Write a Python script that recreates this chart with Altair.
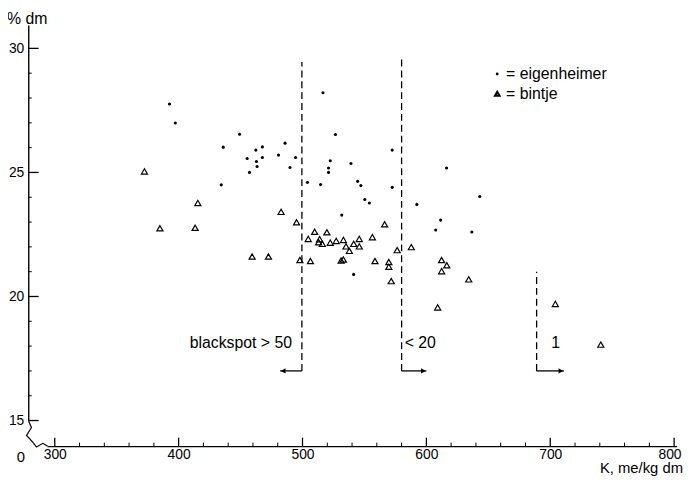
import altair as alt
import pandas as pd

# ---- data ----
eig_k = [392.6, 397.3, 449.2, 436.0, 462.3, 467.6, 485.9, 455.3, 462.8, 467.6, 480.6, 494.4,
         463.3, 457.2, 489.9, 434.4, 504.0, 514.6, 516.5, 526.6, 572.4, 522.4, 539.1, 521.0,
         521.0, 544.5, 547.1, 572.4, 550.3, 554.0, 531.7, 541.3, 592.3, 611.5, 607.5, 636.7,
         643.1, 616.3]
eig_dm = [27.76, 26.99, 26.54, 26.02, 25.90, 26.03, 26.18, 25.56, 25.44, 25.60, 25.70, 25.60,
          25.24, 25.00, 25.20, 24.50, 24.60, 24.51, 28.21, 26.53, 25.90, 25.47, 25.36, 25.18,
          25.00, 24.64, 24.47, 24.40, 23.91, 23.77, 23.28, 20.89, 23.71, 23.08, 22.68, 22.60,
          24.03, 25.18]

bin_k = [372.4, 415.5, 384.9, 413.3, 482.7, 495.2, 459.3, 472.5, 497.9, 506.4, 509.8, 519.7,
         504.6, 513.8, 513.0, 516.0, 522.4, 527.2, 533.0, 535.1, 537.8, 541.3, 545.8, 545.8,
         556.4, 566.3, 531.2, 533.0, 558.5, 576.4, 587.8, 569.7, 569.7, 571.6, 612.3, 616.5,
         612.3, 634.2, 609.1, 704.1, 740.8]
bin_dm = [25.04, 23.77, 22.75, 22.77, 23.41, 22.99, 21.61, 21.61, 21.47, 21.43, 22.61, 22.59,
          22.32, 22.31, 22.19, 22.12, 22.17, 22.24, 22.28, 22.02, 21.84, 22.12, 22.32, 22.02,
          22.39, 22.91, 21.45, 21.49, 21.43, 21.87, 21.99, 21.39, 21.20, 20.62, 21.47, 21.26,
          21.02, 20.69, 19.56, 19.70, 18.06]

# blackspot thresholds
thr_k = [499.5, 580.0, 689.0]
thr_top = [29.45, 29.55, 21.0]
thr_bottom = [17.0, 17.0, 17.0]
arrow_end = [482.0, 600.0, 711.0]
arrow_dir = ["left", "right", "right"]
thr_text = ["blackspot  > 50", "< 20", "1"]
thr_text_k = [491.5, 582.5, 704.3]
thr_text_align = ["right", "left", "center"]
thr_text_dm = [18.14, 18.14, 18.14]

x_major = [300, 400, 500, 600, 700, 800]
x_minor = [v for v in range(300, 801, 20) if v % 100 != 0]
y_major = [15, 20, 25, 30]
y_minor = [v for v in range(15, 31) if v % 5 != 0]

legend_names = ["eigenheimer", "bintje"]

# axis break decoration (zig-zag between y and x axis), in data units
break_k = [279.0, 281.2, 277.2, 282.4, 285.2, 290.4, 294.2]
break_dm = [14.96, 14.72, 14.40, 14.12, 13.93, 14.08, 13.96]

X_DOM = [279.0, 802.4]
Y_DOM = [13.95, 30.92]
W, H = 656, 426
FONT = "Liberation Sans"

xs = alt.Scale(domain=X_DOM, nice=False, zero=False)
ys = alt.Scale(domain=Y_DOM, nice=False, zero=False)

eig = pd.DataFrame({"k": eig_k, "dm": eig_dm})
bint = pd.DataFrame({"k": bin_k, "dm": bin_dm})
thr = pd.DataFrame({"k": thr_k, "top": thr_top, "bottom": thr_bottom,
                    "end": arrow_end, "dir": arrow_dir})
ann = pd.DataFrame({"k": thr_text_k, "dm": thr_text_dm, "t": thr_text, "al": thr_text_align})

base_axes = alt.Chart(pd.DataFrame({"k": [300], "dm": [15]})).mark_point(opacity=0).encode(
    x=alt.X("k:Q", scale=xs, title=None,
            axis=alt.Axis(values=x_major, ticks=False, domain=False, grid=False,
                          labelPadding=1, labelFont=FONT, labelFontSize=14,
                          labelFlush=5, labelFlushOffset=7,
                          labelColor="black")),
    y=alt.Y("dm:Q", scale=ys, title=None,
            axis=alt.Axis(values=y_major, ticks=False, domain=False, grid=False,
                          labelPadding=5, labelFont=FONT, labelFontSize=14,
                          labelFlush=False,
                          labelColor="black")),
)

# axis lines
yaxis_line = alt.Chart(pd.DataFrame({"dm": [14.96]})).mark_rule(color="black", strokeWidth=1.4).encode(
    x=alt.value(0), y=alt.Y("dm:Q", scale=ys), y2=alt.value(0))
xaxis_line = alt.Chart(pd.DataFrame({"k": [294.2]})).mark_rule(color="black", strokeWidth=1.4).encode(
    x=alt.X("k:Q", scale=xs), x2=alt.value(W), y=alt.value(H))
axis_break = alt.Chart(pd.DataFrame({"k": break_k, "dm": break_dm, "o": list(range(len(break_k)))})).mark_line(
    color="black", strokeWidth=1.2, clip=False).encode(
    x=alt.X("k:Q", scale=xs), y=alt.Y("dm:Q", scale=ys), order="o:O")

# inward ticks
ytick_major = alt.Chart(pd.DataFrame({"dm": y_major})).mark_rule(color="black", strokeWidth=1.3).encode(
    y=alt.Y("dm:Q", scale=ys), x=alt.value(0), x2=alt.value(10))
ytick_minor = alt.Chart(pd.DataFrame({"dm": y_minor})).mark_rule(color="black", strokeWidth=1).encode(
    y=alt.Y("dm:Q", scale=ys), x=alt.value(0), x2=alt.value(3))
xtick_major = alt.Chart(pd.DataFrame({"k": x_major})).mark_rule(color="black", strokeWidth=1.3).encode(
    x=alt.X("k:Q", scale=xs), y=alt.value(H), y2=alt.value(H - 9))
xtick_minor = alt.Chart(pd.DataFrame({"k": x_minor})).mark_rule(color="black", strokeWidth=1).encode(
    x=alt.X("k:Q", scale=xs), y=alt.value(H), y2=alt.value(H - 4))

# data points
dots = alt.Chart(eig).mark_point(shape="circle", filled=True, color="black", size=10, opacity=1).encode(
    x=alt.X("k:Q", scale=xs), y=alt.Y("dm:Q", scale=ys))
tris = alt.Chart(bint).mark_point(shape="triangle-up", filled=False, color="black", size=38,
                                  strokeWidth=1.2, opacity=1).encode(
    x=alt.X("k:Q", scale=xs), y=alt.Y("dm:Q", scale=ys))

# threshold dashed lines and arrows
dashed = alt.Chart(thr).mark_rule(color="black", strokeWidth=1.3, strokeDash=[7, 4]).encode(
    x=alt.X("k:Q", scale=xs), y=alt.Y("bottom:Q", scale=ys), y2="top:Q")
arrows = alt.Chart(thr).mark_rule(color="black", strokeWidth=1.3).encode(
    x=alt.X("k:Q", scale=xs), x2="end:Q", y=alt.Y("bottom:Q", scale=ys))
head_l = alt.Chart(thr[thr["dir"] == "left"]).mark_point(
    shape="triangle-left", filled=True, color="black", size=30, xOffset=3, opacity=1).encode(
    x=alt.X("end:Q", scale=xs), y=alt.Y("bottom:Q", scale=ys))
head_r = alt.Chart(thr[thr["dir"] == "right"]).mark_point(
    shape="triangle-right", filled=True, color="black", size=30, xOffset=-3, opacity=1).encode(
    x=alt.X("end:Q", scale=xs), y=alt.Y("bottom:Q", scale=ys))

ann_layers = []
for al in ["left", "right", "center"]:
    ann_layers.append(
        alt.Chart(ann[ann["al"] == al]).mark_text(align=al, baseline="middle", font=FONT,
                                                  fontSize=16, color="black").encode(
            x=alt.X("k:Q", scale=xs), y=alt.Y("dm:Q", scale=ys), text="t:N"))

# legend (manual, as in the original)
leg = pd.DataFrame({"name": legend_names, "t": ["=  " + n for n in legend_names], "row": [0, 1]})
leg_dot = alt.Chart(leg[leg["row"] == 0]).mark_point(shape="circle", filled=True, color="black",
                                                     size=8, opacity=1).encode(
    x=alt.value(474), y=alt.value(49))
leg_tri = alt.Chart(leg[leg["row"] == 1]).mark_point(shape="triangle-up", filled=False, color="black",
                                                     size=22, opacity=1).encode(
    x=alt.value(474), y=alt.value(69))
leg_t0 = alt.Chart(leg[leg["row"] == 0]).mark_text(align="left", baseline="middle", font=FONT,
                                                   fontSize=16, color="black").encode(
    x=alt.value(483), y=alt.value(49), text="t:N")
leg_t1 = alt.Chart(leg[leg["row"] == 1]).mark_text(align="left", baseline="middle", font=FONT,
                                                   fontSize=16, color="black").encode(
    x=alt.value(483), y=alt.value(69), text="t:N")

# axis titles
titles = pd.DataFrame({"t": ["% dm", "K, me/kg dm", "0"]})
t_y = alt.Chart(titles.iloc[[0]]).mark_text(align="left", baseline="middle", font=FONT,
                                            fontSize=16, color="black").encode(
    x=alt.value(-22), y=alt.value(-7), text="t:N")
t_x = alt.Chart(titles.iloc[[1]]).mark_text(align="right", baseline="middle", font=FONT,
                                            fontSize=15, color="black").encode(
    x=alt.value(662), y=alt.value(H + 22), text="t:N")
t_0 = alt.Chart(titles.iloc[[2]]).mark_text(align="center", baseline="middle", font=FONT,
                                            fontSize=15, color="black").encode(
    x=alt.value(-8), y=alt.value(H + 11), text="t:N")

chart = alt.layer(
    base_axes, yaxis_line, xaxis_line, axis_break,
    ytick_major, ytick_minor, xtick_major, xtick_minor,
    dashed, arrows, head_l, head_r,
    tris, dots,
    *ann_layers,
    leg_dot, leg_tri, leg_t0, leg_t1,
    t_y, t_x, t_0,
).properties(
    width=W, height=H,
    padding={"left": 21, "top": 15, "right": 8, "bottom": 27},
    autosize=alt.AutoSizeParams(type="none"),
    background="white",
).configure_view(stroke=None)

chart.save("out.html", embed_options={"renderer": "svg", "actions": False})
